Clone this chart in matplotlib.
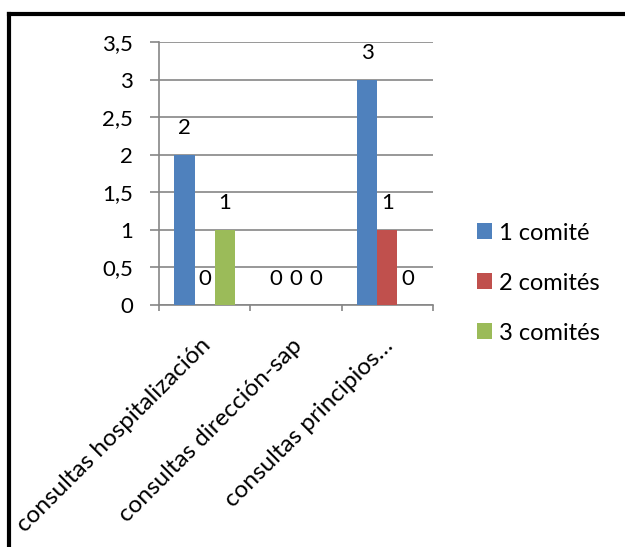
import matplotlib
matplotlib.use("Agg")
import matplotlib.pyplot as plt
from matplotlib.lines import Line2D
from matplotlib.transforms import ScaledTranslation
import numpy as np

categories = ["consultas hospitalización", "consultas dirección-sap", "consultas principios…"]
series_names = ["1 comité", "2 comités", "3 comités"]
one_committee = [2, 0, 3]
two_committees = [0, 0, 1]
three_committees = [1, 0, 0]
y_ticks = [0, 0.5, 1, 1.5, 2, 2.5, 3, 3.5]
y_tick_labels = ["0", "0,5", "1", "1,5", "2", "2,5", "3", "3,5"]

colors = ["#4F81BD", "#C0504D", "#9BBB59"]
grid_color = "#868686"
fs = 16

plt.rcParams["font.family"] = ["Lato", "DejaVu Sans"]

fig = plt.figure(figsize=(6.25, 5.47), dpi=100)
ax = fig.add_axes([0.2544, 0.4424, 0.4384, 0.4808])

x = np.arange(len(categories))
width = 0.222
series = [one_committee, two_committees, three_committees]
for i, (vals, name, col) in enumerate(zip(series, series_names, colors)):
    pos = x + (i - 1) * width
    ax.bar(pos, vals, width=width, color=col, label=name, zorder=3)
    for px, v in zip(pos, vals):
        ax.annotate(str(v), (px, v), xytext=(0, 19), textcoords="offset points",
                    ha="center", va="center", fontsize=fs, zorder=4)

ax.set_xlim(-0.5, 2.5)
ax.set_ylim(0, 3.5)
ax.set_yticks(y_ticks)
ax.set_yticklabels(y_tick_labels, fontsize=fs)
ax.yaxis.grid(True, color=grid_color, linewidth=1.2, zorder=0)
ax.tick_params(axis="y", length=6.5, width=1.2, color=grid_color, pad=12)

# category labels on major ticks, boundary tick marks as minor ticks
ax.set_xticks(x)
ax.set_xticklabels(categories, rotation=45, ha="right", va="baseline",
                   rotation_mode="anchor", fontsize=17.5)
ax.tick_params(axis="x", which="major", length=0, pad=30)
shift = ScaledTranslation(0.07, 0, fig.dpi_scale_trans)
for lbl in ax.get_xticklabels():
    lbl.set_transform(lbl.get_transform() + shift)
ax.set_xticks([-0.5, 0.5, 1.5, 2.5], minor=True)
ax.tick_params(axis="x", which="minor", length=4, width=1.2, color=grid_color)

for side in ["top", "right"]:
    ax.spines[side].set_visible(False)
for side in ["left", "bottom"]:
    ax.spines[side].set_color(grid_color)
    ax.spines[side].set_linewidth(1.2)

fig.legend(loc="upper left", bbox_to_anchor=(477 / 625, 1 - 222.5 / 547),
           frameon=False, fontsize=17, handlelength=0.64, handleheight=0.64,
           handletextpad=0.3, labelspacing=1.23, borderpad=0, borderaxespad=0)

# frame lines along the top and left edges
fig.add_artist(Line2D([9 / 625, 1], [1 - 14 / 547, 1 - 14 / 547], color="black",
                      linewidth=3, transform=fig.transFigure))
fig.add_artist(Line2D([9 / 625, 9 / 625], [0, 1 - 14 / 547], color="black",
                      linewidth=3, transform=fig.transFigure))

fig.savefig("out.png", dpi=100)
